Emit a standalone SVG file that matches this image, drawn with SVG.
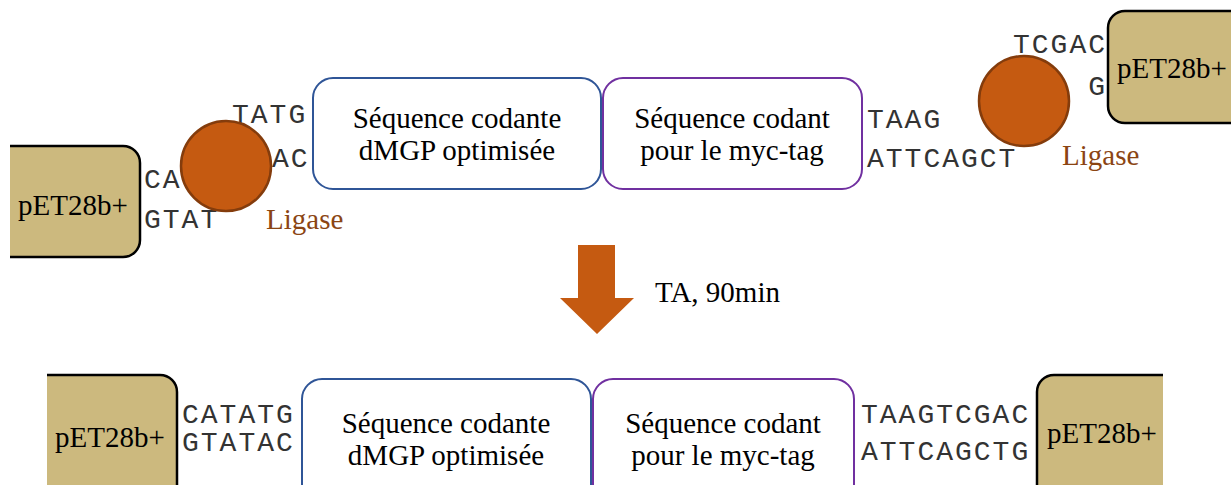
<svg xmlns="http://www.w3.org/2000/svg" width="1231" height="485" viewBox="0 0 1231 485">
  <style>
    .vec { fill: #CCB97E; stroke: #000; stroke-width: 2.5; }
    .vec-label { font-family: "Liberation Serif", "Times New Roman", serif; font-size: 29px; fill: #000; }
    .seq { fill: #fff; stroke-width: 2; }
    .seq-blue { stroke: #2F5597; }
    .seq-purple { stroke: #7030A0; }
    .seq-label { font-family: "Liberation Serif", "Times New Roman", serif; font-size: 29px; fill: #000; text-anchor: middle; }
    .dna { font-family: "Liberation Mono", "Courier New", monospace; font-size: 28px; letter-spacing: 2px; fill: #333; }
    .ligase { fill: #C55A11; stroke: #843C0C; stroke-width: 2.5; }
    .ligase-label { font-family: "Liberation Serif", "Times New Roman", serif; font-size: 29px; fill: #8B4513; }
    .step { fill: #C55A11; }
  </style>
  <defs>
    <clipPath id="clipTL"><rect x="10" y="0" width="300" height="485"/></clipPath>
    <clipPath id="clipBL"><rect x="47" y="0" width="300" height="485"/></clipPath>
    <clipPath id="clipBR"><rect x="900" y="0" width="263" height="485"/></clipPath>
  </defs>

  <rect width="1231" height="485" fill="#fff"/>

  <!-- Before ligation -->
  <g id="vector-left-top">
    <rect class="vec" x="-20" y="146" width="160" height="111" rx="17" clip-path="url(#clipTL)"/>
    <text class="vec-label" x="18" y="215">pET28b+</text>
  </g>
  <g id="ends-left-top">
    <text class="dna" x="144" y="188">CA</text>
    <text class="dna" x="144" y="228">GTAT</text>
    <text class="dna" x="232" y="123">TATG</text>
    <text class="dna" x="272" y="167">AC</text>
  </g>
  <g id="ligase-left">
    <circle class="ligase" cx="226" cy="166" r="45"/>
    <text class="ligase-label" x="266" y="229">Ligase</text>
  </g>
  <g id="dmgp-top">
    <rect class="seq seq-blue" x="313" y="78" width="288" height="111" rx="20"/>
    <text class="seq-label" x="457" y="128">Séquence codante</text>
    <text class="seq-label" x="457" y="160">dMGP optimisée</text>
  </g>
  <g id="myc-top">
    <rect class="seq seq-purple" x="603" y="78" width="259" height="111" rx="20"/>
    <text class="seq-label" x="732" y="128">Séquence codant</text>
    <text class="seq-label" x="732" y="160">pour le myc-tag</text>
  </g>
  <g id="ends-right-top">
    <text class="dna" x="867" y="128">TAAG</text>
    <text class="dna" x="867" y="167">ATTCAGCT</text>
    <text class="dna" x="1107" y="53" text-anchor="end">TCGAC</text>
    <text class="dna" x="1107" y="95" text-anchor="end">G</text>
  </g>
  <g id="ligase-right">
    <circle class="ligase" cx="1024" cy="101" r="45"/>
    <text class="ligase-label" x="1062" y="165">Ligase</text>
  </g>
  <g id="vector-right-top">
    <rect class="vec" x="1108" y="11" width="160" height="112" rx="17"/>
    <text class="vec-label" x="1117" y="78">pET28b+</text>
  </g>

  <!-- Reaction step -->
  <g id="connectors">
    <polygon class="step" points="578,245 615,245 615,298 634,298 597,334 560,298 578,298"/>
    <text class="vec-label" x="655" y="302">TA, 90min</text>
  </g>

  <!-- After ligation -->
  <g id="vector-left-bottom">
    <rect class="vec" x="20" y="375" width="157" height="130" rx="17" clip-path="url(#clipBL)"/>
    <text class="vec-label" x="55" y="447">pET28b+</text>
  </g>
  <g id="junction-left-bottom">
    <text class="dna" x="182" y="423">CATATG</text>
    <text class="dna" x="182" y="451">GTATAC</text>
  </g>
  <g id="dmgp-bottom">
    <rect class="seq seq-blue" x="302" y="379" width="289" height="130" rx="20"/>
    <text class="seq-label" x="446" y="433">Séquence codante</text>
    <text class="seq-label" x="446" y="465">dMGP optimisée</text>
  </g>
  <g id="myc-bottom">
    <rect class="seq seq-purple" x="593" y="379" width="261" height="130" rx="20"/>
    <text class="seq-label" x="723" y="433">Séquence codant</text>
    <text class="seq-label" x="723" y="465">pour le myc-tag</text>
  </g>
  <g id="junction-right-bottom">
    <text class="dna" x="861" y="423">TAAGTCGAC</text>
    <text class="dna" x="861" y="460">ATTCAGCTG</text>
  </g>
  <g id="vector-right-bottom">
    <rect class="vec" x="1037" y="375" width="160" height="130" rx="17" clip-path="url(#clipBR)"/>
    <text class="vec-label" x="1047" y="443">pET28b+</text>
  </g>
</svg>
